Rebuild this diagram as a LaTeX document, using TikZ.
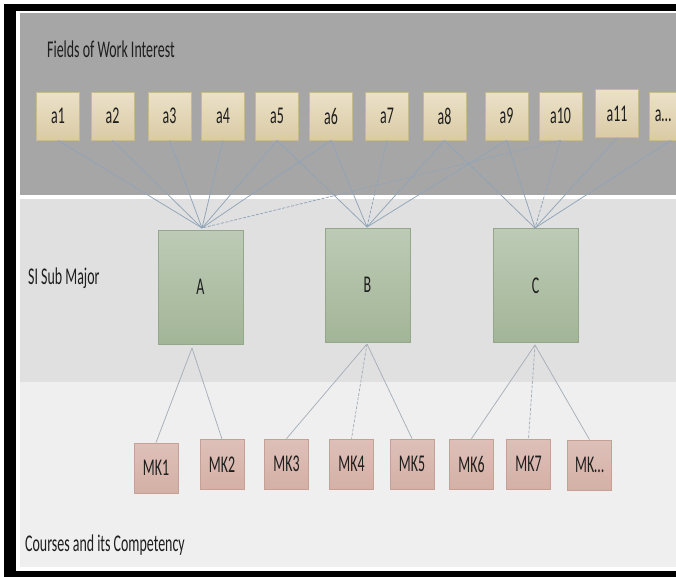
\documentclass[tikz,border=0pt]{standalone}
\usepackage{fontspec}
\setmainfont{Carlito}[FakeStretch=0.58]
\usepackage{xcolor}
\usepackage{tikz}

\definecolor{bandtop}{HTML}{A6A6A6}
\definecolor{bandmid}{HTML}{E0E0E0}
\definecolor{bandlow}{HTML}{EFEFEF}
\definecolor{fieldhi}{HTML}{EBE1C8}
\definecolor{fieldlo}{HTML}{DACBA5}
\definecolor{fieldline}{HTML}{C9B98F}
\definecolor{subhi}{HTML}{BDCBB6}
\definecolor{sublo}{HTML}{A3B597}
\definecolor{subline}{HTML}{95A78B}
\definecolor{coursehi}{HTML}{DEC0B8}
\definecolor{courselo}{HTML}{D4B0A6}
\definecolor{courseline}{HTML}{C4A096}
\definecolor{linkblue}{HTML}{90A4B8}
\definecolor{linkgray}{HTML}{A6AFB9}
\definecolor{textdark}{HTML}{1E1E1E}
\newcommand\labelfont{\fontsize{24bp}{28bp}\selectfont}

\begin{document}
\begin{tikzpicture}[
    field/.style={draw=fieldline,line width=0.8bp,top color=fieldhi,bottom color=fieldlo,minimum width=43bp,minimum height=48bp,inner sep=0pt,font=\labelfont,text=textdark},
    submajor/.style={draw=subline,line width=0.8bp,top color=subhi,bottom color=sublo,minimum width=85bp,minimum height=114bp,inner sep=0pt,font=\labelfont,text=textdark},
    course/.style={draw=courseline,line width=0.8bp,top color=coursehi,bottom color=courselo,minimum width=44bp,minimum height=50bp,inner sep=0pt,font=\labelfont,text=textdark},
    link/.style={draw=linkblue,line width=0.75bp},
    sublink/.style={draw=linkgray,line width=0.75bp},
    caption/.style={anchor=west,inner sep=0pt,font=\labelfont,text=textdark}]
    \useasboundingbox (0bp,0bp) rectangle (676bp,-577bp);
    % frame and bands
    \fill [white] (0bp,0bp) rectangle (676bp,-577bp);
    \fill [black] (4bp,-4bp) rectangle (16bp,-577bp);
    \fill [black] (4bp,-4bp) rectangle (676bp,-11bp);
    \fill [black] (4bp,-571bp) rectangle (676bp,-577bp);
    \fill [bandtop] (20bp,-13bp) rectangle (676bp,-195bp);
    \fill [bandmid] (20bp,-199bp) rectangle (676bp,-382bp);
    \fill [bandlow] (20bp,-382bp) rectangle (676bp,-567bp);

    \node (fieldtitle) at (47bp,-49bp)[caption] {Fields of Work Interest};
    \node (subtitle) at (28bp,-278bp)[caption] {SI Sub Major};
    \node (coursetitle) at (25bp,-545bp)[caption] {Courses and its Competency};

    \node (a1) at (58bp,-116bp)[field] {a1};
    \node (a2) at (112.5bp,-116bp)[field] {a2};
    \node (a3) at (169.5bp,-116bp)[field] {a3};
    \node (a4) at (223bp,-116bp)[field] {a4};
    \node (a5) at (277bp,-116bp)[field] {a5};
    \node (a6) at (331bp,-116bp)[field] {a6};
    \node (a7) at (387bp,-116bp)[field] {a7};
    \node (a8) at (444.5bp,-116bp)[field] {a8};
    \node (a9) at (506.5bp,-116bp)[field] {a9};
    \node (a10) at (560.5bp,-116bp)[field] {a10};
    \node (a11) at (617bp,-113.5bp)[field] {a11};
    \node (a12) at (663bp,-116bp)[field,minimum width=27bp] {a…};

    \node (A) at (200.5bp,-287bp)[submajor] {A};
    \node (B) at (367.5bp,-285bp)[submajor] {B};
    \node (C) at (535.5bp,-285.5bp)[submajor] {C};

    \node (MK1) at (156bp,-468bp)[course] {MK1};
    \node (MK2) at (222bp,-464.5bp)[course] {MK2};
    \node (MK3) at (286.5bp,-464bp)[course] {MK3};
    \node (MK4) at (351.5bp,-464bp)[course] {MK4};
    \node (MK5) at (412bp,-464bp)[course] {MK5};
    \node (MK6) at (471.5bp,-464bp)[course] {MK6};
    \node (MK7) at (528.5bp,-464bp)[course] {MK7};
    \node (MK8) at (589.5bp,-465bp)[course] {MK…};

    \coordinate (Atop) at (202bp,-228bp);
    \coordinate (Btop) at (367bp,-227bp);
    \coordinate (Ctop) at (535bp,-228bp);
    \coordinate (Abot) at (192bp,-348bp);
    \coordinate (Bbot) at (367bp,-344bp);
    \coordinate (Cbot) at (535bp,-345bp);

    % fields to sub majors
    \draw [link] (a1.south) to (Atop);
    \draw [link] (a2.south) to (Atop);
    \draw [link] (a3.south) to (Atop);
    \draw [link] (a4.south) to (Atop);
    \draw [link] (a5.south) to (Atop);
    \draw [link] (a6.south) to (Atop);
    \draw [link,dash pattern=on 3bp off 1.5bp] (a10.south) to (Atop);
    \draw [link] (a5.south) to (Btop);
    \draw [link] (a6.south) to (Btop);
    \draw [link,dash pattern=on 3bp off 1.5bp] (a7.south) to (Btop);
    \draw [link] (a8.south) to (Btop);
    \draw [link] (a9.south) to (Btop);
    \draw [link] (a8.south) to (Ctop);
    \draw [link] (a9.south) to (Ctop);
    \draw [link,dash pattern=on 3bp off 1.5bp] (a10.south) to (Ctop);
    \draw [link] (a11.south) to (Ctop);
    \draw [link] ([xshift=8bp]a12.south) to (Ctop);

    % sub majors to courses
    \draw [sublink] (Abot) to (MK1.north);
    \draw [sublink] (Abot) to (MK2.north);
    \draw [sublink] (Bbot) to (MK3.north);
    \draw [sublink,dash pattern=on 3bp off 1.5bp] (Bbot) to (MK4.north);
    \draw [sublink] (Bbot) to (MK5.north);
    \draw [sublink] (Cbot) to (MK6.north);
    \draw [sublink,dash pattern=on 3bp off 1.5bp] (Cbot) to (MK7.north);
    \draw [sublink] (Cbot) to (MK8.north);
\end{tikzpicture}
\end{document}
